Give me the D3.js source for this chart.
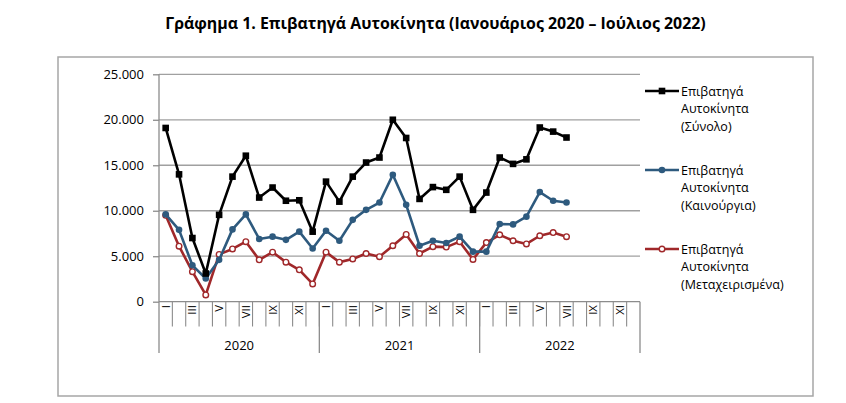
<!DOCTYPE html>
<html>
<head>
<meta charset="utf-8">
<script src="https://cdn.jsdelivr.net/npm/d3@7/dist/d3.min.js"></script>
<style>
  body { margin: 0; background: #fff; }
  svg { display: block; }
  text { font-family: "Open Sans", "DejaVu Sans", sans-serif; fill: #000; }
</style>
</head>
<body>
<svg id="chart" width="846" height="403"></svg>
<script>
// ---- Data ----
const title = "Γράφημα 1. Επιβατηγά Αυτοκίνητα (Ιανουάριος 2020 – Ιούλιος 2022)";
const years = ["2020", "2021", "2022"];
const monthNames = ["I","II","III","IV","V","VI","VII","VIII","IX","X","XI","XII"];
const yTicks = [0, 5000, 10000, 15000, 20000, 25000];
const seriesNames = [
  ["Επιβατηγά", "Αυτοκίνητα", "(Σύνολο)"],
  ["Επιβατηγά", "Αυτοκίνητα", "(Καινούργια)"],
  ["Επιβατηγά", "Αυτοκίνητα", "(Μεταχειρισμένα)"]
];
const totalCars = [19100, 14000, 7000, 3100, 9550, 13750, 16050, 11450, 12550, 11100, 11150, 7700,
                   13200, 11000, 13750, 15300, 15850, 20000, 18000, 11300, 12600, 12300, 13750, 10100,
                   12000, 15850, 15150, 15650, 19150, 18700, 18050];
const newCars   = [9600, 7900, 4000, 2550, 4600, 7950, 9600, 6900, 7150, 6800, 7700, 5850,
                   7800, 6700, 9000, 10100, 10900, 13950, 10650, 6150, 6700, 6450, 7150, 5500,
                   5500, 8550, 8500, 9350, 12050, 11100, 10900];
const usedCars  = [9500, 6100, 3300, 750, 5200, 5800, 6600, 4600, 5450, 4350, 3500, 1950,
                   5450, 4350, 4700, 5300, 4950, 6150, 7400, 5300, 6050, 6000, 6600, 4650,
                   6500, 7350, 6700, 6350, 7250, 7600, 7150];

(function () {
// ---- Build ----
const periods = [];
years.forEach(yr => monthNames.forEach(m => periods.push(yr + "-" + m)));

const svg = d3.select("#chart");
const pLeft = 159, pRight = 640, pTop = 74.3, pBottom = 301.7, groupBottom = 353;

const x = d3.scaleBand().domain(periods).range([pLeft, pRight]).padding(0);
const y = d3.scaleLinear().domain([0, 25000]).range([pBottom, pTop]);

// outer frame
svg.append("rect").attr("x", 58).attr("y", 57).attr("width", 755).attr("height", 339)
  .attr("fill", "#fff").attr("stroke", "#a6a6a6").attr("stroke-width", 1.5);

// title
const t = svg.append("text").attr("x", 435.5).attr("y", 29).attr("text-anchor", "middle")
  .attr("font-weight", "bold").attr("font-size", 100).text(title);
const w100 = t.node().getComputedTextLength();
t.attr("font-size", 100 * 541 / w100);

// grid lines
const fmt = d3.format(",");
svg.append("g").selectAll("line").data(yTicks.filter(d => d > 0)).join("line")
  .attr("x1", pLeft).attr("x2", pRight)
  .attr("y1", d => y(d)).attr("y2", d => y(d))
  .attr("stroke", "#a0a0a0").attr("stroke-width", 1.3);

// y axis
const yAxis = d3.axisLeft(y).tickValues(yTicks).tickSize(6).tickPadding(9)
  .tickFormat(d => fmt(d).replace(/,/g, "."));
const gy = svg.append("g").attr("transform", `translate(${pLeft},0)`).call(yAxis);
gy.select(".domain").remove();
gy.selectAll(".tick line").attr("stroke", "#8c8c8c").attr("stroke-width", 1.3);
gy.selectAll(".tick text").attr("font-size", 13).attr("font-family", "'Open Sans', sans-serif").attr("fill", "#000");
svg.append("line").attr("x1", pLeft).attr("x2", pLeft).attr("y1", pTop).attr("y2", groupBottom)
  .attr("stroke", "#8c8c8c").attr("stroke-width", 1.3);

// x axis baseline
svg.append("line").attr("x1", pLeft).attr("x2", pRight).attr("y1", pBottom).attr("y2", pBottom)
  .attr("stroke", "#8c8c8c").attr("stroke-width", 1.3);

// month ticks at band boundaries
svg.append("g").selectAll("line").data(periods.slice(1)).join("line")
  .attr("x1", d => x(d)).attr("x2", d => x(d))
  .attr("y1", pBottom).attr("y2", 326.5)
  .attr("stroke", "#8c8c8c").attr("stroke-width", 1.1);

// year separators
const yearEdges = years.map(yr => x(yr + "-I")).concat([pRight]);
svg.append("g").selectAll("line").data(yearEdges.slice(1)).join("line")
  .attr("x1", d => d).attr("x2", d => d).attr("y1", pBottom).attr("y2", groupBottom)
  .attr("stroke", "#8c8c8c").attr("stroke-width", 1.3);

// month labels (odd months only)
svg.append("g").selectAll("text").data(periods.filter((p, i) => i % 2 === 0)).join("text")
  .attr("transform", d => `translate(${x(d) + x.bandwidth() / 2 + 4},${305}) rotate(-90)`)
  .attr("text-anchor", "end").attr("font-size", 11.5)
  .text(d => d.split("-")[1]);

// year labels
svg.append("g").selectAll("text").data(years).join("text")
  .attr("x", d => x(d + "-I") + x.bandwidth() * 6).attr("y", 350)
  .attr("text-anchor", "middle").attr("font-size", 13).text(d => d);

// series
const cx = i => x(periods[i]) + x.bandwidth() / 2;
const series = [
  { values: totalCars, color: "#000000", marker: "square", width: 2.6 },
  { values: newCars, color: "#2e5a7e", marker: "dot", width: 2.6 },
  { values: usedCars, color: "#a0282a", marker: "hollow", width: 2.6 }
];
const line = d3.line().x((d, i) => cx(i)).y(d => y(d));

function drawMarker(g, sx, sy, s) {
  if (s.marker === "square") {
    g.append("rect").attr("x", sx - 3.3).attr("y", sy - 3.3).attr("width", 6.6).attr("height", 6.6)
      .attr("fill", s.color);
  } else if (s.marker === "dot") {
    g.append("circle").attr("cx", sx).attr("cy", sy).attr("r", 3.3).attr("fill", s.color);
  } else {
    g.append("circle").attr("cx", sx).attr("cy", sy).attr("r", 2.8)
      .attr("fill", "#fff").attr("stroke", s.color).attr("stroke-width", 1.4);
  }
}

[...series].reverse().forEach(s => {
  const g = svg.append("g");
  g.append("path").datum(s.values).attr("d", line).attr("fill", "none")
    .attr("stroke", s.color).attr("stroke-width", s.width).attr("stroke-linejoin", "round");
  s.values.forEach((v, i) => drawMarker(g, cx(i), y(v), s));
});

// legend
const legendY = [91, 170, 249];
series.forEach((s, k) => {
  const g = svg.append("g");
  const ly = legendY[k];
  g.append("line").attr("x1", 645).attr("x2", 679).attr("y1", ly).attr("y2", ly)
    .attr("stroke", s.color).attr("stroke-width", s.width);
  drawMarker(g, 662, ly, s);
  seriesNames[k].forEach((txt, j) => {
    g.append("text").attr("x", 681).attr("y", ly + 4.5 + j * 17.5)
      .attr("font-size", 12.5).text(txt);
  });
});
})();
</script>
</body>
</html>
